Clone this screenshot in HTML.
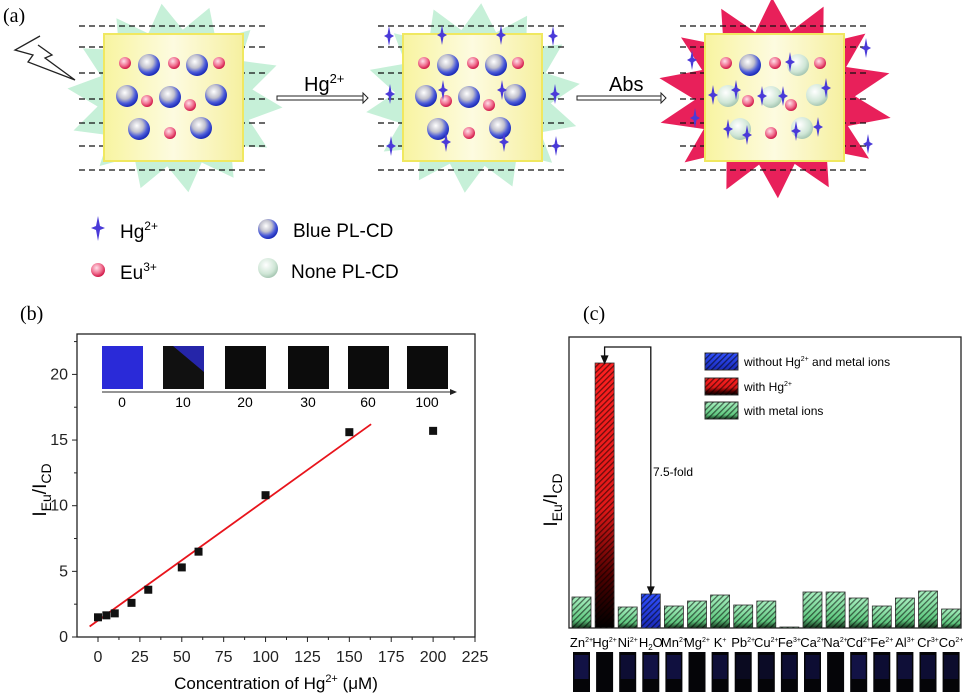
<!DOCTYPE html>
<html><head><meta charset="utf-8"><style>
html,body{margin:0;padding:0;background:#fff;}
svg{display:block;font-family:"Liberation Sans",sans-serif;}
</style></head><body>
<svg id="fig" width="975" height="698" viewBox="0 0 975 698" xmlns="http://www.w3.org/2000/svg">
<defs>
<radialGradient id="gBlue" cx="0.4" cy="0.35" r="0.65"><stop offset="0" stop-color="#ffffff"/><stop offset="0.45" stop-color="#c0c0cc"/><stop offset="0.75" stop-color="#4a5ad8"/><stop offset="1" stop-color="#1a2ab8"/></radialGradient>
<radialGradient id="gPink" cx="0.4" cy="0.35" r="0.65"><stop offset="0" stop-color="#ffe0ea"/><stop offset="0.6" stop-color="#f07090"/><stop offset="1" stop-color="#d01848"/></radialGradient>
<radialGradient id="gNone" cx="0.4" cy="0.35" r="0.65"><stop offset="0" stop-color="#ffffff"/><stop offset="0.7" stop-color="#cfe6d6"/><stop offset="1" stop-color="#a8c8b4"/></radialGradient>
<linearGradient id="gBox" x1="0" y1="0" x2="1" y2="0"><stop offset="0" stop-color="#f8f4a0"/><stop offset="0.5" stop-color="#fdfbe0"/><stop offset="1" stop-color="#f6f0a0"/></linearGradient>
<linearGradient id="gGreen" x1="0" y1="0" x2="0" y2="1"><stop offset="0" stop-color="#a8f0c0"/><stop offset="0.75" stop-color="#60c880"/><stop offset="1" stop-color="#103018"/></linearGradient>
<linearGradient id="gRed" x1="0" y1="0" x2="0" y2="1"><stop offset="0" stop-color="#ff2020"/><stop offset="0.55" stop-color="#e01818"/><stop offset="0.8" stop-color="#500000"/><stop offset="1" stop-color="#000"/></linearGradient>
<linearGradient id="gBlueBar" x1="0" y1="0" x2="0" y2="1"><stop offset="0" stop-color="#3050ff"/><stop offset="1" stop-color="#1a2ab8"/></linearGradient>
<pattern id="hatch" width="4" height="4" patternUnits="userSpaceOnUse" patternTransform="rotate(45)"><rect width="1.3" height="4" fill="#000" opacity="0.55"/></pattern>
</defs>

<!-- Panel a -->
<g id="panelA">
<text x="3" y="22" font-family="Liberation Serif,serif" font-size="20">(a)</text>
<polygon id="burst1" fill="#c6f0d8"/>
<polygon id="burst2" fill="#c6f0d8"/>
<polygon id="burst3" fill="#e8205a"/>
<g id="dashes" stroke="#111" stroke-width="1.3" stroke-dasharray="6,4"></g>
<rect x="104" y="34" width="139" height="127" fill="url(#gBox)" stroke="#f0e860" stroke-width="2"/>
<rect x="403" y="34" width="139" height="127" fill="url(#gBox)" stroke="#f0e860" stroke-width="2"/>
<rect x="705" y="34" width="139" height="127" fill="url(#gBox)" stroke="#f0e860" stroke-width="2"/>
<g id="particles"></g>
<polyline points="40,36 15,50 33,55 28,62 75,80 45,58 52,55 38,45" fill="#fff" stroke="#222" stroke-width="1.3"/>
<g>
<rect x="277" y="96" width="86" height="4" fill="#fff" stroke="#222" stroke-width="1"/>
<polygon points="363,93 368,98 363,103" fill="#fff" stroke="#222"/>
<text x="304" y="91" font-size="20">Hg<tspan dy="-8" font-size="13">2+</tspan></text>
</g>
<g>
<rect x="577" y="96" width="84" height="4" fill="#fff" stroke="#222" stroke-width="1"/>
<polygon points="661,93 666,98 661,103" fill="#fff" stroke="#222"/>
<text x="609" y="91" font-size="20">Abs</text>
</g>
<g>
<path d="M98,216 L100,226 L105,228 L100,230 L98,241 L96,230 L91,228 L96,226 Z" fill="#4a3ad8"/>
<text x="120" y="238" font-size="19">Hg<tspan dy="-8" font-size="12">2+</tspan></text>
<circle cx="98" cy="270" r="7" fill="url(#gPink)"/>
<text x="120" y="279" font-size="19">Eu<tspan dy="-8" font-size="12">3+</tspan></text>
<circle cx="268" cy="229" r="10" fill="url(#gBlue)"/>
<text x="293" y="237" font-size="19">Blue PL-CD</text>
<circle cx="268" cy="268" r="10" fill="url(#gNone)"/>
<text x="291" y="278" font-size="19">None PL-CD</text>
</g>
</g>

<!-- Panel b -->
<g id="panelB">
<text x="20" y="320" font-family="Liberation Serif,serif" font-size="20">(b)</text>
<rect x="77" y="334" width="398" height="303" fill="none" stroke="#222" stroke-width="1.3"/>
<g id="photosB"></g>
<line x1="102" y1="392" x2="455" y2="392" stroke="#555" stroke-width="1.3"/>
<polygon points="457,392 450,389 450,395" fill="#222"/>
<g id="axesB" font-size="16" fill="#222"></g>
<line id="fitLine" stroke="#e8141c" stroke-width="1.8"/>
<g id="pointsB"></g>
<text transform="translate(46,490) rotate(-90)" text-anchor="middle" font-size="19">I<tspan dy="5" font-size="14">Eu</tspan><tspan dy="-5">/I</tspan><tspan dy="5" font-size="14">CD</tspan></text>
<text x="276" y="689" text-anchor="middle" font-size="17">Concentration of Hg<tspan dy="-7" font-size="11">2+</tspan><tspan dy="7"> (μM)</tspan></text>
</g>

<!-- Panel c -->
<g id="panelC">
<text x="583" y="320" font-family="Liberation Serif,serif" font-size="20">(c)</text>
<rect x="569" y="337" width="392" height="291" fill="none" stroke="#222" stroke-width="1.3"/>
<g id="barsC"></g>
<g id="bracket" fill="none" stroke="#111" stroke-width="1.3"></g>
<text x="653" y="476" font-size="12">7.5-fold</text>
<g>
<rect x="705" y="353" width="33" height="17" fill="url(#gBlueBar)" stroke="#333"/><rect x="705" y="353" width="33" height="17" fill="url(#hatch)"/>
<text x="744" y="366" font-size="12">without Hg<tspan dy="-5" font-size="7">2+</tspan><tspan dy="5"> and metal ions</tspan></text>
<rect x="705" y="378" width="33" height="17" fill="url(#gRed)" stroke="#333"/><rect x="705" y="378" width="33" height="17" fill="url(#hatch)"/>
<text x="744" y="391" font-size="12">with Hg<tspan dy="-5" font-size="7">2+</tspan></text>
<rect x="705" y="402" width="33" height="17" fill="url(#gGreen)" stroke="#333"/><rect x="705" y="402" width="33" height="17" fill="url(#hatch)"/>
<text x="744" y="415" font-size="12">with metal ions</text>
</g>
<text transform="translate(557,500) rotate(-90)" text-anchor="middle" font-size="19">I<tspan dy="5" font-size="14">Eu</tspan><tspan dy="-5">/I</tspan><tspan dy="5" font-size="14">CD</tspan></text>
<g id="labelsC" font-size="13"></g>
<g id="tubesC"></g>
</g>
</svg>
<script>
// ---- Panel b data ----
const concentrations = [0, 5, 10, 20, 30, 50, 60, 100, 150, 200];
const ratios = [1.5, 1.65, 1.8, 2.6, 3.6, 5.3, 6.5, 10.8, 15.6, 15.7];
const fitRange = [-5, 163];
const fitSlope = 0.0917;
const fitIntercept = 1.26;
const xTicksB = [0, 25, 50, 75, 100, 125, 150, 175, 200, 225];
const yTicksB = [0, 5, 10, 15, 20];
const photoLabels = ['0', '10', '20', '30', '60', '100'];
// ---- Panel c data ----
const ions = ['Zn2+','Hg2+','Ni2+','H2O','Mn2+','Mg2+','K+','Pb2+','Cu2+','Fe3+','Ca2+','Na2+','Cd2+','Fe2+','Al3+','Cr3+','Co2+'];
const ionRatios = [3.1, 26.5, 2.1, 3.4, 2.2, 2.7, 3.3, 2.3, 2.7, 0.1, 3.6, 3.6, 3.0, 2.2, 3.0, 3.7, 1.9];
const ionTypes = ['metal','hg','metal','blank','metal','metal','metal','metal','metal','metal','metal','metal','metal','metal','metal','metal','metal'];
const tubeGlow = [0.5, 0, 0.35, 0.5, 0.45, 0, 0.4, 0.2, 0.25, 0.35, 0.35, 0, 0.5, 0.35, 0.4, 0.35, 0.3];

const NS = 'http://www.w3.org/2000/svg';
function mk(tag, attrs, parent){ const e=document.createElementNS(NS,tag); for(const k in attrs) e.setAttribute(k,attrs[k]); parent.appendChild(e); return e; }

function burst(id, cx, cy, ro, ri, ryScale, n, rot){
  const pts=[];
  for(let i=0;i<2*n;i++){ const a=rot+Math.PI*i/n; const r=(i%2?ri:ro); pts.push((cx+r*Math.cos(a)).toFixed(1)+','+(cy+r*ryScale*Math.sin(a)).toFixed(1)); }
  document.getElementById(id).setAttribute('points',pts.join(' '));
}
burst('burst1',175,98,108,78,0.88,14,0.1);
burst('burst2',473,98,108,78,0.88,14,0.3);
burst('burst3',775,98,118,80,0.85,14,0.2);

const dashG=document.getElementById('dashes');
const dashYs=[26,47,73,99,123,146,170];
[[79,268],[378,567],[680,869]].forEach(r=>dashYs.forEach(y=>mk('line',{x1:r[0],y1:y,x2:r[1],y2:y},dashG)));

const pg=document.getElementById('particles');
const blues=[[149,65],[197,65],[127,96],[170,97],[216,95],[139,129],[201,128]];
const pinks=[[125,63],[174,63],[219,63],[147,101],[190,105],[170,133]];
function star(x,y){ const p=mk('path',{d:`M${x},${y-10} L${x+1.5},${y-2} L${x+5},${y} L${x+1.5},${y+2} L${x},${y+10} L${x-1.5},${y+2} L${x-5},${y} L${x-1.5},${y-2} Z`,fill:'#4a3ad8'},pg);
    }
[0,299,601].forEach((off,bi)=>{
  pinks.forEach(p=>{ const c=mk('circle',{cx:p[0]+off,cy:p[1],r:6,fill:'url(#gPink)'},pg);
      });
  blues.forEach((p,i)=>{ const none = bi===2 && i!==0;
    const c=mk('circle',{cx:p[0]+off,cy:p[1],r:11,fill:none?'url(#gNone)':'url(#gBlue)'},pg);
      });
});
const hgs2=[[389,36],[442,35],[501,35],[553,36],[390,94],[443,90],[502,90],[555,94],[391,146],[446,142],[504,142],[556,146]];
hgs2.forEach(p=>star(p[0],p[1]));
const hgs3=[[692,60],[866,48],[713,95],[736,90],[762,96],[783,96],[826,88],[695,118],[728,129],[747,135],[796,131],[818,127],[868,144],[790,62]];
hgs3.forEach(p=>star(p[0],p[1]));

const bx=v=>98+v*(377/225);
const by=v=>637-v*13.13;
const ax=document.getElementById('axesB');
xTicksB.forEach(t=>{ mk('line',{x1:bx(t),y1:637,x2:bx(t),y2:642,stroke:'#222'},ax);
  const m=t+12.5; if(m<225) mk('line',{x1:bx(m),y1:637,x2:bx(m),y2:640,stroke:'#222'},ax);
  const tx=mk('text',{x:bx(t),y:662,'text-anchor':'middle'},ax); tx.textContent=t;
    });
yTicksB.forEach(t=>{ mk('line',{x1:77,y1:by(t),x2:72,y2:by(t),stroke:'#222'},ax);
  mk('line',{x1:77,y1:by(t+2.5),x2:74,y2:by(t+2.5),stroke:'#222'},ax);
  const tx=mk('text',{x:68,y:by(t)+5,'text-anchor':'end'},ax); tx.textContent=t;
    });
const fl=document.getElementById('fitLine');
fl.setAttribute('x1',bx(fitRange[0])); fl.setAttribute('y1',by(fitIntercept+fitSlope*fitRange[0]));
fl.setAttribute('x2',bx(fitRange[1])); fl.setAttribute('y2',by(fitIntercept+fitSlope*fitRange[1]));
const ptsG=document.getElementById('pointsB');
concentrations.forEach((c,i)=>{ const r=mk('rect',{x:bx(c)-4,y:by(ratios[i])-4,width:8,height:8,fill:'#111'},ptsG);
    });
const phG=document.getElementById('photosB');
const phX=[102,163,225,288,348,407];
photoLabels.forEach((l,i)=>{
  const fill = i===0?'#2a2ad8':(i===1?'#111':'#0c0c0c');
  const r=mk('rect',{x:phX[i],y:346,width:41,height:43,fill:fill},phG);
   
  if(i===1){ mk('polygon',{points:`${phX[i]+10},346 ${phX[i]+41},346 ${phX[i]+41},372`,fill:'#2a2ad0',opacity:0.8},phG); }
  const t=mk('text',{x:phX[i]+20,y:407,'text-anchor':'middle','font-size':14},phG); t.textContent=l;
   
});

const cx=i=>581.5+i*23.1;
const cy=v=>628-v*10;
const bg=document.getElementById('barsC');
ionRatios.forEach((v,i)=>{
  const t=ionTypes[i];
  const fill = t==='hg'?'url(#gRed)':(t==='blank'?'url(#gBlueBar)':'url(#gGreen)');
  const r=mk('rect',{x:cx(i)-9.5,y:cy(v),width:19,height:628-cy(v),fill:fill,stroke:'#333','stroke-width':0.8},bg);
   
  mk('rect',{x:cx(i)-9.5,y:cy(v),width:19,height:628-cy(v),fill:'url(#hatch)'},bg);
});
const br=document.getElementById('bracket');
const hgTop=cy(ionRatios[1]), h2oTop=cy(ionRatios[3]);
mk('polyline',{points:`${cx(1)},${hgTop-3} ${cx(1)},347 ${cx(3)},347 ${cx(3)},${h2oTop-3}`},br);
mk('polygon',{points:`${cx(1)-3},${hgTop-7} ${cx(1)+3},${hgTop-7} ${cx(1)},${hgTop}`,fill:'#111'},br);
mk('polygon',{points:`${cx(3)-3},${h2oTop-7} ${cx(3)+3},${h2oTop-7} ${cx(3)},${h2oTop}`,fill:'#111'},br);
const lg=document.getElementById('labelsC');
ions.forEach((n,i)=>{
  const t=mk('text',{x:cx(i),y:647,'text-anchor':'middle'},lg);
   
  if(n==='H2O'){ t.innerHTML='H<tspan dy="3" font-size="8">2</tspan><tspan dy="-3">O</tspan>'; }
  else { const m=n.match(/^([A-Za-z]+)(.*)$/); t.innerHTML=m[1]+'<tspan dy="-5" font-size="7">'+m[2]+'</tspan>'; }
});
const tg=document.getElementById('tubesC');
tubeGlow.forEach((g,i)=>{
  const r=mk('rect',{x:cx(i)-8.5,y:652,width:17,height:40,fill:'#050508'},tg);
   
  mk('rect',{x:cx(i)-7,y:655,width:14,height:24,fill:'#2a2ab8',opacity:g*0.7},tg);
});
</script>
</body></html>
